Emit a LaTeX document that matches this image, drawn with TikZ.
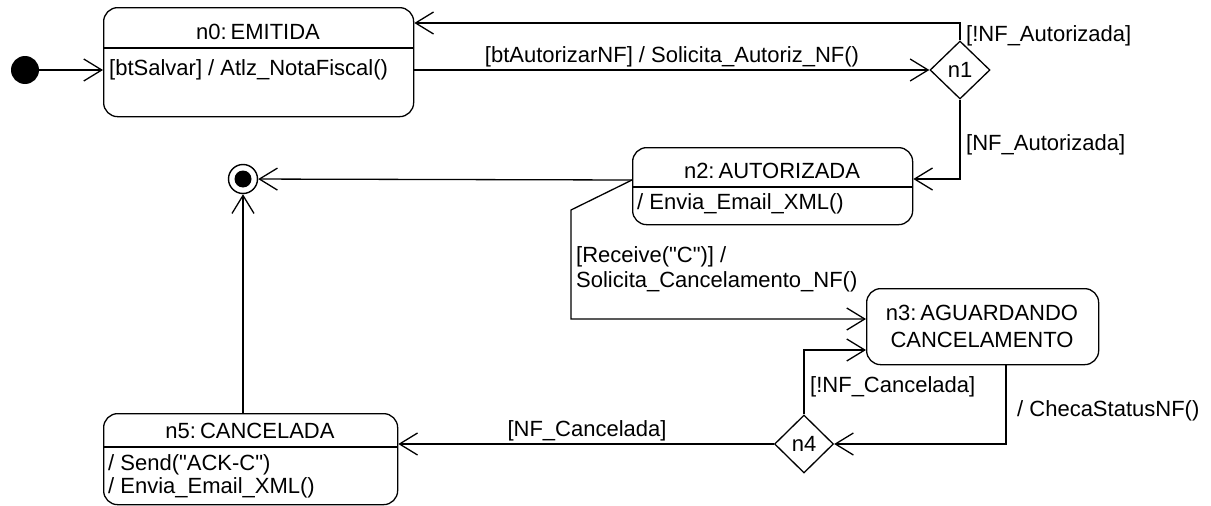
\documentclass[tikz,border=0pt]{standalone}
\usepackage{fontspec}
\setmainfont{Liberation Sans}[Ligatures=TeXOff]
\usetikzlibrary{arrows.meta,shapes.geometric}
\begin{document}
\begin{tikzpicture}[x=1pt,y=-1pt,
  every node/.style={font=\fontsize{22}{26}\selectfont},
  st/.style={draw,line width=1.3pt,rounded corners=14pt,inner sep=0pt,anchor=north west},
  dec/.style={draw,diamond,aspect=1,inner sep=0pt,line width=1.3pt},
  tr/.style={line width=1.3pt,-{Straight Barb[length=18pt,width=22pt,line width=1.3pt]}},
  ln/.style={line width=1.3pt},
  lbl/.style={inner sep=0pt},
]
\useasboundingbox (0,0) rectangle (1211,506);

% states
\node[st,minimum width=310pt,minimum height=109pt] (n0) at (103,7) {};
\draw[ln] (n0.west |- 0,48) -- (n0.east |- 0,48);
\node[lbl] (n0t) at (258,32) {n0:\hspace{4pt}EMITIDA};
\node[lbl,anchor=west] (n0b) at (109,70) {[btSalvar] / Atlz\_NotaFiscal()};

\node[st,minimum width=280pt,minimum height=77pt] (n2) at (632,147) {};
\draw[ln] (n2.west |- 0,187) -- (n2.east |- 0,187);
\node[lbl] (n2t) at (772,171) {n2:\hspace{4pt}AUTORIZADA};
\node[lbl,anchor=west] (n2b) at (637,204) {/ Envia\_Email\_XML()};

\node[st,minimum width=232pt,minimum height=76pt] (n3) at (866,288) {};
\node[lbl,align=center,font=\fontsize{22}{27}\selectfont] (n3t) at (982,326) {n3:\hspace{4pt}AGUARDANDO\\CANCELAMENTO};

\node[st,minimum width=294pt,minimum height=91pt] (n5) at (103,413) {};
\draw[ln] (n5.west |- 0,447) -- (n5.east |- 0,447);
\node[lbl] (n5t) at (250,431) {n5:\hspace{4pt}CANCELADA};
\node[lbl,anchor=west] (n5b1) at (108,465) {/ Send("ACK-C")};
\node[lbl,anchor=west] (n5b2) at (108,488) {/ Envia\_Email\_XML()};

% pseudo states
\node[circle,fill,minimum size=28pt,inner sep=0pt] (init) at (25,70) {};
\node[circle,draw,line width=1.4pt,minimum size=29pt,inner sep=0pt] (fin) at (243,179) {};
\node[circle,fill,minimum size=17pt,inner sep=0pt] (finc) at (243,179) {};
\node[dec,minimum width=60pt,minimum height=58pt] (n1) at (960,70) {n1};
\node[dec,minimum width=59pt,minimum height=58pt] (n4) at (804,444) {n4};

% transitions
\draw[tr] (init) -- (init -| n0.west);
\draw[tr] (n1.west -| n0.east) -- (n1.west);
\draw[tr] (n1.north) |- (n0.east |- 0,23);
\draw[tr] (n1.south) |- (n2.east |- 0,179);
\draw[tr] (n2.west |- 0,180) -- (fin);
\coordinate (k1) at (571,210);
\coordinate (k2) at (571,319);
\draw[tr] (n2.west |- 0,180) -- (k1) -- (k2) -- (n3.west |- k2);
\draw[tr] (n3.south -| 1006,0) |- (n4.east);
\draw[tr] (n4.north) |- (n3.west |- 0,350);
\draw[tr] (n4.west) -- (n4.west -| n5.east);
\draw[tr] (fin |- n5.north) -- (fin);

% labels
\node[lbl] (l1) at (672,57) {[btAutorizarNF] / Solicita\_Autoriz\_NF()};
\node[lbl,anchor=west] (l2) at (966,36) {[!NF\_Autorizada]};
\node[lbl,anchor=west] (l3) at (966,145) {[NF\_Autorizada]};
\node[lbl,anchor=west] (l4) at (576,257) {[Receive("C")] /};
\node[lbl,anchor=west] (l5) at (576,282) {Solicita\_Cancelamento\_NF()};
\node[lbl,anchor=west] (l6) at (1017,411) {/ ChecaStatusNF()};
\node[lbl,anchor=west] (l7) at (810,387) {[!NF\_Cancelada]};
\node[lbl] (l8) at (587,431) {[NF\_Cancelada]};
\end{tikzpicture}
\end{document}
